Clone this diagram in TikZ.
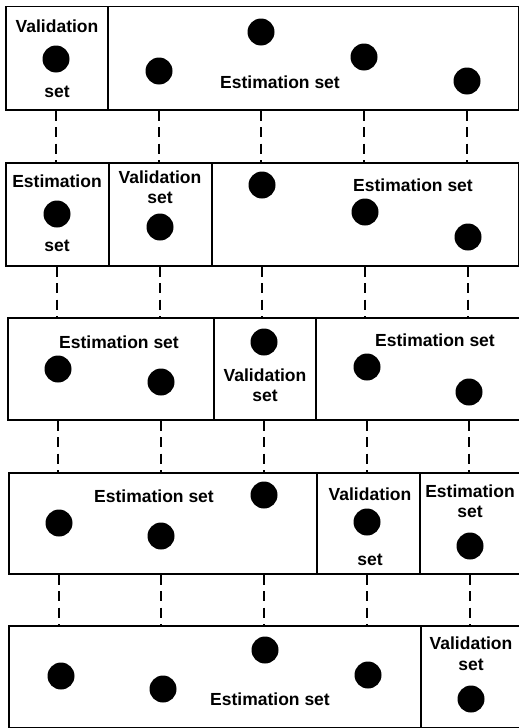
\documentclass[tikz,border=0pt]{standalone}
\usepackage{fontspec}
\setmainfont{Liberation Sans}
\begin{document}
\begin{tikzpicture}[x=1pt,y=-1pt,
  cellbox/.style={draw=black, line width=1.5pt, anchor=north west, inner sep=0pt},
  dot/.style={circle, fill=black, draw=none, minimum size=27pt, inner sep=0pt},
  lbl/.style={font=\fontsize{17.5}{20}\selectfont\bfseries, inner sep=0pt, align=center},
  linkline/.style={line width=1.3pt, dash pattern=on 10pt off 6.5pt}]
\useasboundingbox (0,0) rectangle (519,728);

% one cell of a row: name, x1, y1, x2, y2
\newcommand\rowcell[5]{%
  \node[cellbox, minimum width={(#4-#2)*1pt}, minimum height={(#5-#3)*1pt}] (#1) at (#2,#3) {};}

% row 1
\rowcell{r1a}{5}{5.5}{107}{109}
\rowcell{r1b}{107}{5.5}{518}{109}
% row 2
\rowcell{r2a}{5}{162}{108}{265}
\rowcell{r2b}{108}{162}{211}{265}
\rowcell{r2c}{211}{162}{518}{265}
% row 3
\rowcell{r3a}{7}{317}{213}{419}
\rowcell{r3b}{213}{317}{315}{419}
\rowcell{r3c}{315}{317}{522}{419}
% row 4
\rowcell{r4a}{8}{472}{316}{573}
\rowcell{r4b}{316}{472}{419}{573}
\rowcell{r4c}{419}{472}{522}{573}
% row 5
\rowcell{r5a}{8}{625}{420}{727}
\rowcell{r5b}{420}{625}{522}{727}

% data points
\node[dot] (r1d1) at (56,59) {};
\node[dot] (r1d2) at (159,71) {};
\node[dot] (r1d3) at (261,32) {};
\node[dot] (r1d4) at (364,57) {};
\node[dot] (r1d5) at (467,81) {};

\node[dot] (r2d1) at (57,214) {};
\node[dot] (r2d2) at (160,227) {};
\node[dot] (r2d3) at (262,185) {};
\node[dot] (r2d4) at (365,212) {};
\node[dot] (r2d5) at (468,237) {};

\node[dot] (r3d1) at (58,369) {};
\node[dot] (r3d2) at (161,382) {};
\node[dot] (r3d3) at (264,342) {};
\node[dot] (r3d4) at (367,367) {};
\node[dot] (r3d5) at (469,392) {};

\node[dot] (r4d1) at (59,523) {};
\node[dot] (r4d2) at (161,536) {};
\node[dot] (r4d3) at (264,495) {};
\node[dot] (r4d4) at (367,522) {};
\node[dot] (r4d5) at (470,546) {};

\node[dot] (r5d1) at (61,676) {};
\node[dot] (r5d2) at (163,689) {};
\node[dot] (r5d3) at (265,650) {};
\node[dot] (r5d4) at (368,675) {};
\node[dot] (r5d5) at (471,699) {};

% labels
\node[lbl] (t1a) at (57,26) {Validation};
\node[lbl] (t1b) at (57,92) {set};
\node[lbl] (t1c) at (280,82) {Estimation set};

\node[lbl] (t2a) at (57,181) {Estimation};
\node[lbl] (t2b) at (57,246) {set};
\node[lbl] (t2c) at (160,177) {Validation};
\node[lbl] (t2d) at (160,198) {set};
\node[lbl] (t2e) at (413,185) {Estimation set};

\node[lbl] (t3a) at (119,342) {Estimation set};
\node[lbl] (t3b) at (265,375) {Validation};
\node[lbl] (t3c) at (265,396) {set};
\node[lbl] (t3d) at (435,340) {Estimation set};

\node[lbl] (t4a) at (154,496) {Estimation set};
\node[lbl] (t4b) at (370,494) {Validation};
\node[lbl] (t4c) at (370,560) {set};
\node[lbl] (t4d) at (470,491) {Estimation};
\node[lbl] (t4e) at (470,512) {set};

\node[lbl] (t5a) at (270,699) {Estimation set};
\node[lbl] (t5b) at (471,643) {Validation};
\node[lbl] (t5c) at (471,665) {set};

% dashed links between consecutive rows
\foreach \r/\s in {1/2,2/3,3/4,4/5}
  \foreach \c in {1,...,5}
    \draw[linkline] (r\r d\c |- r\r a.south) -- (r\r d\c |- r\s a.north);
\end{tikzpicture}
\end{document}
